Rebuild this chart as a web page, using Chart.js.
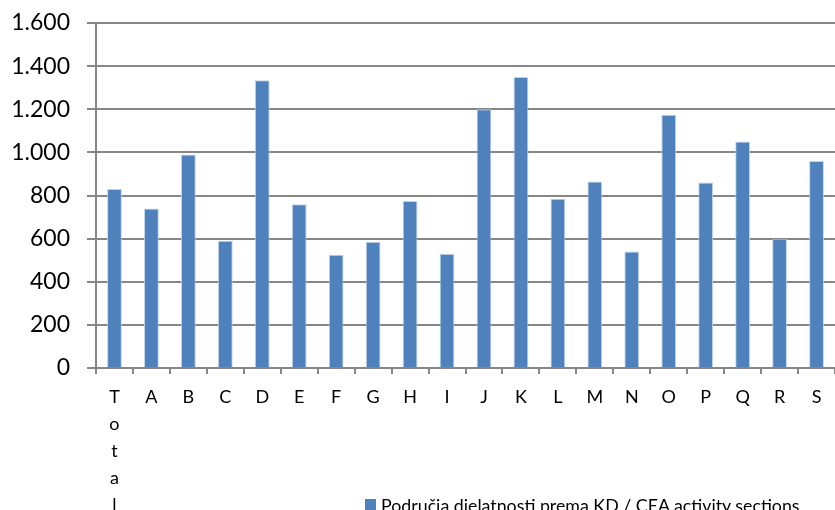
<!DOCTYPE html>
<html>
<head>
<meta charset="utf-8">
<script src="https://cdn.jsdelivr.net/npm/chart.js@4/dist/chart.umd.min.js"></script>
<style>
  html, body { margin: 0; padding: 0; background: #fff; overflow: hidden; }
  #wrap { position: relative; width: 835px; height: 510px; overflow: hidden; }
  #legend { position: absolute; left: 365px; top: 496px; font-family: Lato, "Open Sans", sans-serif; font-size: 17.8px; line-height: 18px; color: #000; white-space: nowrap; }
  #legend .box { position: absolute; left: 0; top: 3px; width: 11px; height: 11px; background: #4F81BD; }
  #legend .txt { position: absolute; left: 16px; top: 0; }
</style>
</head>
<body>
<div id="wrap">
  <canvas id="c" width="835" height="510"></canvas>
  <div id="legend"><span class="box"></span><span class="txt" id="legendText"></span></div>
</div>
<script>
const categories = ["Total", "A", "B", "C", "D", "E", "F", "G", "H", "I", "J", "K", "L", "M", "N", "O", "P", "Q", "R", "S"];
const values = [830, 740, 990, 590, 1335, 760, 525, 585, 775, 530, 1200, 1350, 785, 865, 540, 1175, 860, 1050, 600, 960];
const seriesName = "Područja djelatnosti prema KD / CEA activity sections";
const yTicks = [0, 200, 400, 600, 800, 1000, 1200, 1400, 1600];

document.getElementById('legendText').textContent = seriesName;

const labels = categories.map(c => c.length > 1 ? c.split('') : c);
const fmt = v => String(v).replace(/\B(?=(\d{3})+(?!\d))/g, '.');

new Chart(document.getElementById('c'), {
  type: 'bar',
  data: {
    labels: labels,
    datasets: [{
      label: seriesName,
      data: values,
      backgroundColor: '#4F81BD',
      borderColor: 'rgba(185,205,229,0.9)',
      borderWidth: 1,
      categoryPercentage: 1,
      barPercentage: 0.4
    }]
  },
  options: {
    responsive: false,
    animation: false,
    layout: { padding: { top: 23, left: 0, right: 0, bottom: 0 } },
    plugins: { legend: { display: false }, tooltip: { enabled: false }, title: { display: false } },
    scales: {
      x: {
        grid: { display: true, drawOnChartArea: false, drawTicks: true, tickLength: 6, color: '#868686', lineWidth: 2, offset: true },
        border: { display: true, color: '#868686', width: 2 },
        ticks: {
          color: '#000',
          font: { family: 'Lato', size: 18, lineHeight: 1.5 },
          maxRotation: 0, minRotation: 0, autoSkip: false, padding: 10
        },
        afterFit: s => { s.height = 142; s.paddingLeft = 0; s.paddingRight = 0; }
      },
      y: {
        min: 0, max: 1600,
        afterBuildTicks: s => { s.ticks = yTicks.map(v => ({ value: v })); },
        grid: { color: '#868686', lineWidth: 2, drawTicks: true, tickLength: 9 },
        border: { display: true, color: '#868686', width: 2 },
        ticks: {
          color: '#000',
          font: { family: 'Lato', size: 23 },
          padding: 17,
          callback: v => fmt(v)
        },
        afterFit: s => { s.width = 96; s.paddingTop = 0; s.paddingBottom = 0; }
      }
    }
  }
});
</script>
</body>
</html>
